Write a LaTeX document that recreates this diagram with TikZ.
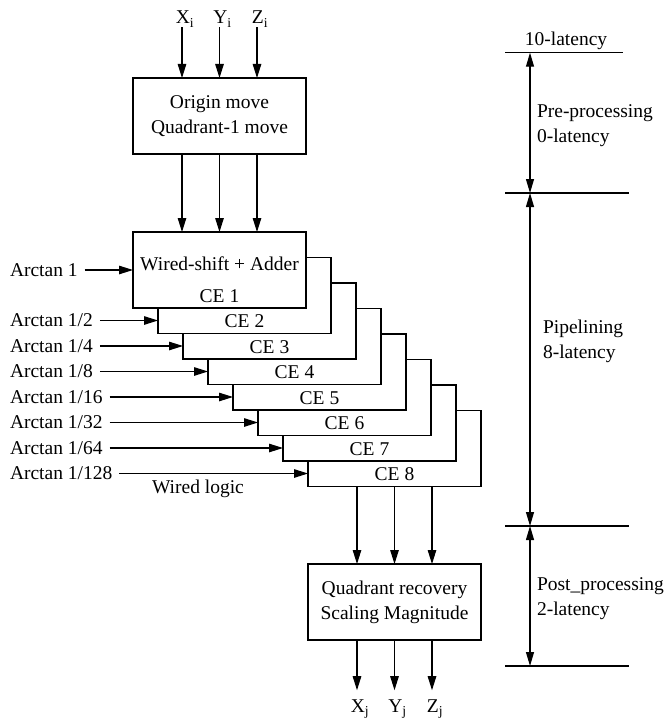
\documentclass[tikz,border=0pt]{standalone}
\usepackage{fontspec}
\setmainfont{Liberation Serif}
\usetikzlibrary{arrows.meta,calc}
\begin{document}
\begin{tikzpicture}[x=1pt,y=-1pt,
  every node/.style={font=\fontsize{19.5}{25}\selectfont, inner sep=0pt, outer sep=0pt},
  box/.style={draw, fill=white, line width=1.1pt, minimum width=173pt, minimum height=76pt, align=center},
  arr/.style={-{Triangle[length=14pt,width=8.5pt]}, line width=1.1pt},
  darr/.style={{Triangle[length=14pt,width=8pt]}-{Triangle[length=14pt,width=8pt]}, line width=1.1pt},
  rule/.style={line width=1.1pt},
]
\useasboundingbox (0,0) rectangle (668,725);

% ---- inputs and pre-processing box
\node[box] (orig) at (219.5,116) {Origin move\\Quadrant-1 move};
\node[anchor=base] (xi) at (185,24) {X\textsubscript{i}};
\node[anchor=base] (yi) at (222.5,24) {Y\textsubscript{i}};
\node[anchor=base] (zi) at (260,24) {Z\textsubscript{i}};

% ---- CE stack (back to front)
\foreach \k in {8,7,...,1}{
  \node[box, anchor=north west] (ce\k) at ({133+25*(\k-1)},{232+25.5*(\k-1)}) {};
  \node[anchor=base] (cel\k) at ([yshift=6pt]ce\k.south) {CE \k};
}
\node[anchor=base] (ws) at (219.5,270) {Wired-shift + Adder};

\foreach \s in {xi,yi,zi}{
  \draw[arr] ([xshift=-3pt]\s.south) -- ([xshift=-3pt]\s.south |- orig.north);
}
\foreach \dx in {-37.5,0,37.5}{
  \draw[arr] ([xshift=\dx pt]orig.south) -- ([xshift=\dx pt]orig.south |- ce1.north);
}

% ---- arctan inputs
\node[anchor=west] (a1) at (10,270) {Arctan 1};
\node[anchor=west] (a2) at (10,320.5) {Arctan 1/2};
\node[anchor=west] (a3) at (10,346) {Arctan 1/4};
\node[anchor=west] (a4) at (10,371.5) {Arctan 1/8};
\node[anchor=west] (a5) at (10,397) {Arctan 1/16};
\node[anchor=west] (a6) at (10,422.5) {Arctan 1/32};
\node[anchor=west] (a7) at (10,448) {Arctan 1/64};
\node[anchor=west] (a8) at (10,473.5) {Arctan 1/128};
\foreach \k in {1,...,8}{
  \draw[arr, shorten <=7pt] (a\k.east) -- (a\k.east -| ce\k.west);
}
\node[anchor=base] (wl) at (198,493) {Wired logic};

% ---- post-processing box
\node[box] (qr) at (394.5,602) {Quadrant recovery\\Scaling Magnitude};
\foreach \dx in {-37.5,0,37.5}{
  \draw[arr] ([xshift=\dx pt]ce8.south) -- ([xshift=\dx pt]ce8.south |- qr.north);
}
\node[anchor=base] (xj) at (360,712) {X\textsubscript{j}};
\node[anchor=base] (yj) at (397.5,712) {Y\textsubscript{j}};
\node[anchor=base] (zj) at (435,712) {Z\textsubscript{j}};
\foreach \s in {xj,yj,zj}{
  \draw[arr, shorten >=9pt] ([xshift=-3pt]\s.north |- qr.south) -- ([xshift=-3pt]\s.north);
}

% ---- latency scale
\coordinate (l1a) at (505,52.7);  \coordinate (l1b) at (623,52.7);
\coordinate (l2a) at (505,193);   \coordinate (l2b) at (629,193);
\coordinate (l3a) at (505,526);   \coordinate (l3b) at (629,526);
\coordinate (l4a) at (505,666);   \coordinate (l4b) at (629,666);
\foreach \i in {1,...,4}{ \draw[rule] (l\i a) -- (l\i b); }
\coordinate (v1) at (530,52.7);
\coordinate (v2) at (530,193);
\coordinate (v3) at (530,526);
\coordinate (v4) at (530,666);
\draw[darr] (v1) -- (v2);
\draw[darr] (v2) -- (v3);
\draw[darr] (v3) -- (v4);

\node[anchor=base] (lat10) at (566,46) {10-latency};
\node[anchor=base west] (pre1) at (537,117) {Pre-processing};
\node[anchor=base west] (pre2) at (537,142) {0-latency};
\node[anchor=base west] (pip1) at (543,333) {Pipelining};
\node[anchor=base west] (pip2) at (543,358) {8-latency};
\node[anchor=base west] (post1) at (537,590) {Post\_processing};
\node[anchor=base west] (post2) at (537,615) {2-latency};
\end{tikzpicture}
\end{document}
